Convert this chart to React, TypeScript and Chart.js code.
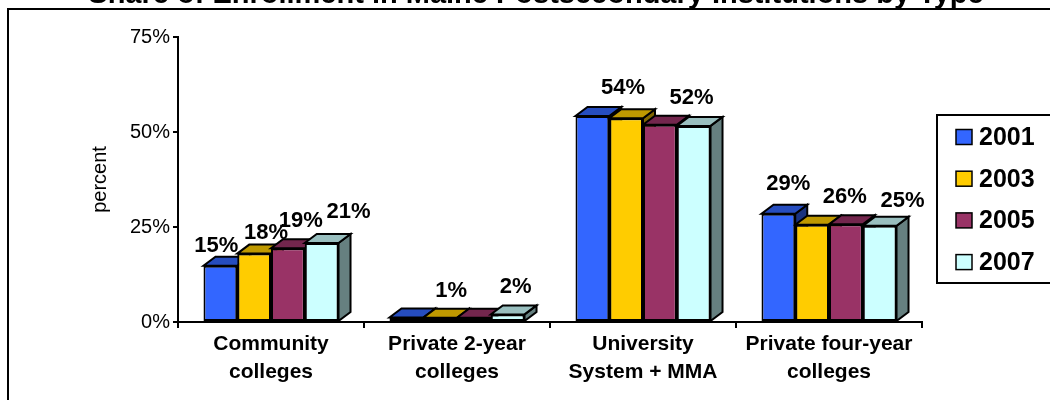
import React, { useEffect, useRef } from 'react';
import { Chart, registerables } from 'chart.js';

Chart.register(...registerables);

const TITLE = 'Share of Enrollment in Maine Postsecondary Institutions by Type';
const Y_TITLE = 'percent';
const CATEGORIES = [
  ['Community', 'colleges'],
  ['Private 2-year', 'colleges'],
  ['University', 'System + MMA'],
  ['Private four-year', 'colleges'],
];
const SERIES = ['2001', '2003', '2005', '2007'];
const V2001 = [14.8, 1.2, 54.2, 28.5];
const V2003 = [18.0, 1.1, 53.6, 25.6];
const V2005 = [19.4, 1.1, 51.9, 25.7];
const V2007 = [20.8, 2.0, 51.6, 25.3];
const L2001 = ['15%', null, null, '29%'];
const L2003 = ['18%', '1%', '54%', null];
const L2005 = ['19%', null, null, '26%'];
const L2007 = ['21%', '2%', '52%', '25%'];
const Y_TICKS = [0, 25, 50, 75];

const VALUES = [V2001, V2003, V2005, V2007];
const LABELS = [L2001, L2003, L2005, L2007];
const COLORS = ['#3366FF', '#FFCC00', '#993366', '#CCFFFF'];

// label placement nudges (style only): [dx, dy] per series per category
const LABEL_NUDGE = [
  [[-10, 7], [0, 0], [0, 0], [4, -3]],
  [[6, 6], [5, 0], [-9, -3], [0, 0]],
  [[7, 0], [0, 0], [0, 0], [-7, 0]],
  [[21, -4], [2, 0], [-8, -1], [17, 2]],
];

const FONT = 'Arial, "Liberation Sans", sans-serif';
const DX = 12;
const DY = 9;

function shade(hex: string, f: number) {
  const n = parseInt(hex.slice(1), 16);
  const r = Math.round(((n >> 16) & 255) * f);
  const g = Math.round(((n >> 8) & 255) * f);
  const b = Math.round((n & 255) * f);
  return `rgb(${r},${g},${b})`;
}

const threeD = {
  id: 'threeD',
  beforeDatasetsDraw(chart: any) {
    const ctx = chart.ctx;
    ctx.save();
    ctx.lineWidth = 2;
    ctx.strokeStyle = '#000';
    ctx.lineJoin = 'miter';
    const n = chart.data.labels.length;
    for (let j = 0; j < n; j++) {
      chart.data.datasets.forEach((ds: any, i: number) => {
        const el = chart.getDatasetMeta(i).data[j];
        if (!el) return;
        const { x, y, base, width } = el.getProps(['x', 'y', 'base', 'width'], true);
        const L = x - width / 2;
        const R = x + width / 2;
        ctx.beginPath();
        ctx.moveTo(R, y);
        ctx.lineTo(R + DX, y - DY);
        ctx.lineTo(R + DX, base - DY);
        ctx.lineTo(R, base);
        ctx.closePath();
        ctx.fillStyle = shade(COLORS[i], 0.5);
        ctx.fill();
        ctx.stroke();
        ctx.beginPath();
        ctx.moveTo(L, y);
        ctx.lineTo(R, y);
        ctx.lineTo(R + DX, y - DY);
        ctx.lineTo(L + DX, y - DY);
        ctx.closePath();
        ctx.fillStyle = shade(COLORS[i], 0.75);
        ctx.fill();
        ctx.stroke();
      });
    }
    ctx.restore();
  },
  afterDatasetsDraw(chart: any) {
    const ctx = chart.ctx;
    ctx.save();
    ctx.font = `bold 22px ${FONT}`;
    ctx.fillStyle = '#000';
    ctx.textAlign = 'center';
    ctx.textBaseline = 'alphabetic';
    chart.data.datasets.forEach((ds: any, i: number) => {
      const meta = chart.getDatasetMeta(i);
      meta.data.forEach((el: any, j: number) => {
        const txt = LABELS[i][j];
        if (!txt) return;
        const { x, y } = el.getProps(['x', 'y'], true);
        const [nx, ny] = LABEL_NUDGE[i][j];
        ctx.fillText(txt, x + DX / 2 + nx, y - DY - 12 + ny);
      });
    });
    ctx.restore();
  },
  afterDraw(chart: any) {
    const ctx = chart.ctx;
    ctx.save();
    ctx.strokeStyle = '#000';
    ctx.lineWidth = 2;
    ctx.beginPath();
    ctx.moveTo(8, 410);
    ctx.lineTo(8, 9);
    ctx.lineTo(1060, 9);
    ctx.stroke();
    ctx.fillStyle = '#000';
    ctx.font = `bold 29px ${FONT}`;
    ctx.textAlign = 'center';
    ctx.textBaseline = 'alphabetic';
    ctx.fillText(TITLE, 536, 3);
    ctx.lineWidth = 2;
    ctx.strokeRect(937, 115, 130, 168);
    ctx.font = `bold 25px ${FONT}`;
    ctx.textAlign = 'left';
    ctx.textBaseline = 'middle';
    SERIES.forEach((s, i) => {
      const cy = 137 + i * 41.7;
      ctx.fillStyle = COLORS[i];
      ctx.fillRect(956, cy - 7.5, 16, 15);
      ctx.lineWidth = 1.5;
      ctx.strokeRect(956, cy - 7.5, 16, 15);
      ctx.fillStyle = '#000';
      ctx.fillText(s, 979, cy + 1);
    });
    ctx.restore();
  },
};

export default function App() {
  const ref = useRef<HTMLCanvasElement>(null);
  useEffect(() => {
    if (!ref.current) return;
    const chart = new Chart(ref.current, {
      type: 'bar',
      data: {
        labels: CATEGORIES as any,
        datasets: SERIES.map((s, i) => ({
          label: s,
          data: VALUES[i],
          backgroundColor: COLORS[i],
          borderColor: '#000',
          borderWidth: 2,
          borderSkipped: false,
          barPercentage: 1,
          categoryPercentage: 0.726,
        })),
      },
      options: {
        animation: false,
        responsive: true,
        maintainAspectRatio: false,
        devicePixelRatio: 1,
        layout: { padding: { left: 80, top: 37, right: 128, bottom: 0 } },
        plugins: {
          legend: { display: false },
          title: { display: false },
          tooltip: { enabled: false },
        },
        scales: {
          y: {
            min: 0,
            max: 75,
            afterBuildTicks: (scale: any) => {
              scale.ticks = Y_TICKS.map((v) => ({ value: v }));
            },
            afterFit: (scale: any) => {
              scale.width = 98;
            },
            ticks: {
              callback: (v: any) => v + '%',
              color: '#000',
              font: { family: FONT, size: 20 },
              padding: 3,
            },
            grid: {
              drawOnChartArea: false,
              drawTicks: true,
              tickLength: 5,
              color: '#000',
              lineWidth: 2,
            },
            border: { display: true, color: '#000', width: 2 },
            title: {
              display: true,
              text: Y_TITLE,
              color: '#000',
              font: { family: FONT, size: 20 },
              padding: { top: 8, bottom: 0 },
            },
          },
          x: {
            afterFit: (scale: any) => {
              scale.height = 78;
            },
            ticks: {
              color: '#000',
              font: { family: FONT, size: 21, weight: 'bold', lineHeight: 1.3 },
              padding: 3,
              maxRotation: 0,
              autoSkip: false,
            },
            grid: {
              offset: true,
              drawOnChartArea: false,
              drawTicks: true,
              tickLength: 6,
              color: '#000',
              lineWidth: 2,
            },
            border: { display: true, color: '#000', width: 2 },
          },
        },
      },
      plugins: [threeD],
    });
    return () => chart.destroy();
  }, []);
  return (
    <div style={{ position: 'fixed', left: 0, top: 0, width: 1050, height: 400, background: '#fff' }}>
      <canvas ref={ref} />
    </div>
  );
}
